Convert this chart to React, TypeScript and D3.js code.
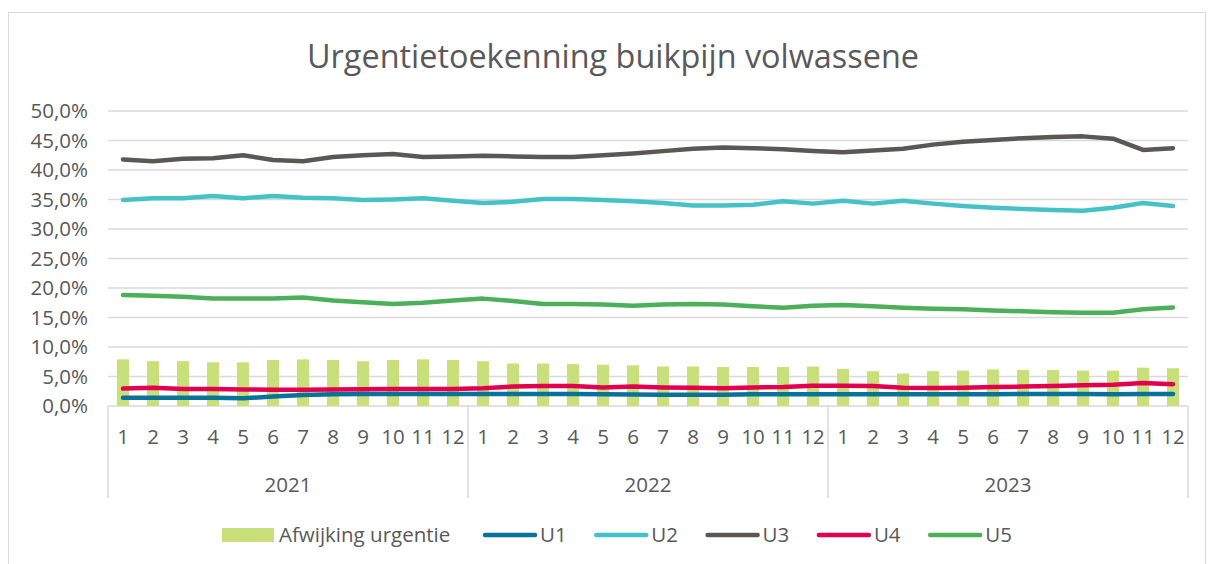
import React from "react";
import * as d3 from "d3";

const years = ["2021", "2022", "2023"];
const months = ["1", "2", "3", "4", "5", "6", "7", "8", "9", "10", "11", "12"];
const yTicks = [0, 5, 10, 15, 20, 25, 30, 35, 40, 45, 50];

const afwijking = [
  7.9, 7.6, 7.6, 7.4, 7.4, 7.8, 7.9, 7.8, 7.6, 7.8, 7.9, 7.8,
  7.6, 7.2, 7.2, 7.1, 7.0, 6.9, 6.7, 6.7, 6.6, 6.6, 6.6, 6.7,
  6.3, 5.9, 5.5, 5.9, 6.0, 6.2, 6.1, 6.1, 6.0, 6.0, 6.5, 6.4,
];
const u1 = [
  1.4, 1.4, 1.4, 1.4, 1.3, 1.6, 1.85, 2.0, 2.05, 2.05, 2.05, 2.05,
  2.05, 2.05, 2.05, 2.05, 2.0, 1.95, 1.9, 1.9, 1.9, 2.0, 2.0, 2.0,
  2.0, 2.0, 2.0, 2.0, 2.0, 2.0, 2.05, 2.05, 2.05, 2.0, 2.05, 2.05,
];
const u2 = [
  34.9, 35.2, 35.2, 35.6, 35.2, 35.6, 35.3, 35.2, 34.9, 35.0, 35.2, 34.8,
  34.4, 34.6, 35.1, 35.1, 34.9, 34.7, 34.4, 34.0, 34.0, 34.1, 34.7, 34.3,
  34.8, 34.3, 34.8, 34.3, 33.9, 33.6, 33.4, 33.2, 33.1, 33.6, 34.4, 33.9,
];
const u3 = [
  41.8, 41.5, 41.9, 42.0, 42.5, 41.7, 41.5, 42.2, 42.5, 42.7, 42.2, 42.3,
  42.4, 42.3, 42.2, 42.2, 42.5, 42.8, 43.2, 43.6, 43.8, 43.7, 43.5, 43.2,
  43.0, 43.3, 43.6, 44.3, 44.8, 45.1, 45.4, 45.6, 45.7, 45.3, 43.4, 43.7,
];
const u4 = [
  2.95, 3.1, 2.9, 2.9, 2.8, 2.75, 2.75, 2.8, 2.85, 2.9, 2.9, 2.9,
  3.0, 3.3, 3.4, 3.4, 3.15, 3.3, 3.15, 3.1, 3.0, 3.15, 3.2, 3.45,
  3.45, 3.4, 3.1, 3.05, 3.1, 3.2, 3.3, 3.4, 3.5, 3.6, 3.9, 3.7,
];
const u5 = [
  18.8, 18.7, 18.5, 18.2, 18.2, 18.2, 18.4, 17.9, 17.6, 17.3, 17.5, 17.9,
  18.2, 17.8, 17.3, 17.3, 17.2, 17.0, 17.2, 17.3, 17.2, 16.9, 16.65, 17.0,
  17.1, 16.9, 16.65, 16.5, 16.4, 16.2, 16.05, 15.9, 15.8, 15.8, 16.4, 16.7,
];

const seriesNames = ["U1", "U2", "U3", "U4", "U5"];
const seriesData = [u1, u2, u3, u4, u5];
const seriesColors = ["#08729a", "#45c2c7", "#5b5753", "#e3004f", "#4caf5a"];
const barName = "Afwijking urgentie";
const barColor = "#c9df79";

const W = 1214;
const H = 564;
const FONT = "'Open Sans', 'Noto Sans', sans-serif";
const TXT = "#595959";
const GRID = "#d9d9d9";
const FS = 20.5;

export default function App() {
  const left = 108;
  const right = 1188;
  const top = 111;
  const bottom = 406;

  const cats = years.flatMap((y) => months.map((m) => `${y}-${m}`));
  const x = d3.scaleBand<string>().domain(cats).range([left, right]).padding(0);
  const yearScale = d3.scaleBand<string>().domain(years).range([left, right]).padding(0);
  const y = d3.scaleLinear().domain([0, 50]).range([bottom, top]);
  const bw = x.bandwidth();
  const barW = bw * 0.4;

  const line = d3
    .line<number>()
    .x((_, i) => (x(cats[i]) as number) + bw / 2)
    .y((d) => y(d))
    .curve(d3.curveLinear);

  const fmt = (v: number) => v.toFixed(1).replace(".", ",") + "%";

  const legendY = 535;
  const legendItems = [
    { kind: "bar", name: barName, color: barColor, x0: 222, tx: 279 },
    ...seriesNames.map((n, i) => ({
      kind: "line",
      name: n,
      color: seriesColors[i],
      x0: 482 + i * 111.3,
      tx: 540 + i * 111.3,
    })),
  ];

  return (
    <svg
      width={W}
      height={H}
      style={{ position: "absolute", left: 0, top: 0, background: "#fff" }}
      fontFamily={FONT}
    >
      <rect x={0} y={0} width={W} height={H} fill="#fff" />
      <rect x={8.5} y={12.5} width={1197} height={580} fill="none" stroke={GRID} strokeWidth={1} />

      <text x={613} y={68} textAnchor="middle" fontSize={32.4} fill={TXT}>
        Urgentietoekenning buikpijn volwassene
      </text>

      {yTicks.map((t) => (
        <g key={t}>
          <line x1={left} x2={right} y1={y(t)} y2={y(t)} stroke={GRID} strokeWidth={1.5} />
          <text x={88} y={y(t) + 7} textAnchor="end" fontSize={FS} fill={TXT}>
            {fmt(t)}
          </text>
        </g>
      ))}

      {afwijking.map((v, i) => (
        <rect
          key={i}
          x={(x(cats[i]) as number) + (bw - barW) / 2}
          y={y(v)}
          width={barW}
          height={y(0) - y(v)}
          fill={barColor}
        />
      ))}

      {seriesData.map((d, i) => (
        <path
          key={seriesNames[i]}
          d={line(d) || ""}
          fill="none"
          stroke={seriesColors[i]}
          strokeWidth={4.5}
          strokeLinecap="round"
          strokeLinejoin="round"
        />
      ))}

      {cats.map((c, i) => (
        <text
          key={c}
          x={(x(c) as number) + bw / 2}
          y={444}
          textAnchor="middle"
          fontSize={FS}
          fill={TXT}
        >
          {months[i % 12]}
        </text>
      ))}
      {years.map((yr) => (
        <text
          key={yr}
          x={(yearScale(yr) as number) + yearScale.bandwidth() / 2}
          y={492}
          textAnchor="middle"
          fontSize={FS}
          fill={TXT}
        >
          {yr}
        </text>
      ))}
      {[...years.map((yr) => yearScale(yr) as number), right].map((xx, i) => (
        <line key={i} x1={xx} x2={xx} y1={bottom} y2={498} stroke={GRID} strokeWidth={1.5} />
      ))}

      {legendItems.map((it) => (
        <g key={it.name}>
          {it.kind === "bar" ? (
            <rect x={it.x0} y={legendY - 7} width={52} height={14} fill={it.color} />
          ) : (
            <line
              x1={it.x0 + 3}
              x2={it.x0 + 53}
              y1={legendY}
              y2={legendY}
              stroke={it.color}
              strokeWidth={4.5}
              strokeLinecap="round"
            />
          )}
          <text x={it.tx} y={legendY + 7} fontSize={FS} fill={TXT}>
            {it.name}
          </text>
        </g>
      ))}
    </svg>
  );
}
